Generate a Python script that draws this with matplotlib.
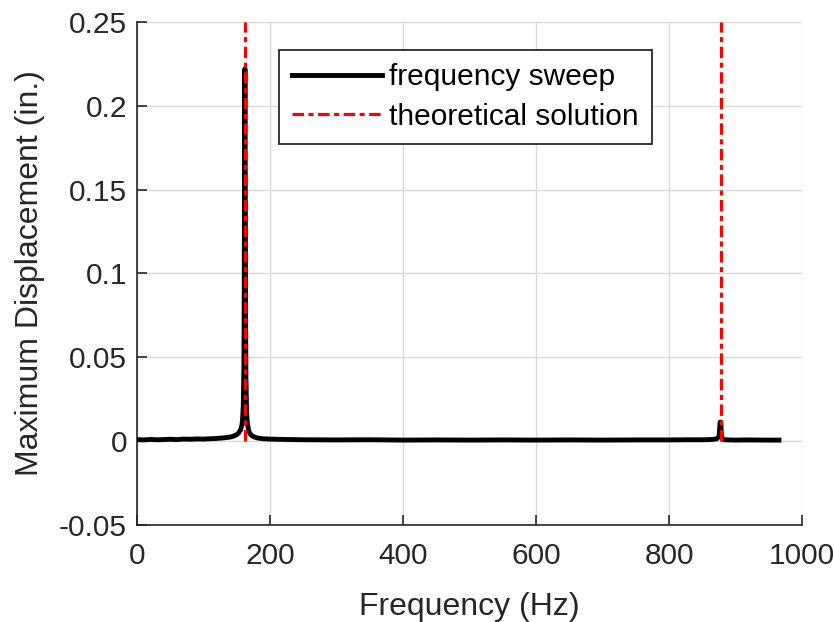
import matplotlib
matplotlib.use("Agg")
import matplotlib.pyplot as plt

plt.rcParams['font.family'] = ['Liberation Sans', 'DejaVu Sans']

# frequency sweep (Hz) and maximum displacement (in.)
freq = [0, 10, 20, 30, 40, 50, 60, 70, 80, 90, 100, 110, 120, 130, 140, 145, 150, 153, 156,
        158, 159, 160, 161, 161.5, 162, 162.5, 163, 163.5, 164, 165, 166, 168, 170, 173, 177,
        182, 190, 200, 220, 250, 300, 350, 400, 450, 500, 550, 600, 650, 700, 750, 800,
        830, 850, 860, 868, 872, 875, 876.5, 877.5, 878.5, 880, 883, 890, 900, 920, 940, 965]
disp = [0.0009, 0.0007, 0.0010, 0.0008, 0.0009, 0.0011, 0.0009, 0.0012, 0.0011, 0.0013,
        0.0012, 0.0014, 0.0016, 0.0019, 0.0024, 0.0029, 0.0038, 0.0048, 0.0068,
        0.0095, 0.013, 0.021, 0.045, 0.090, 0.180, 0.222, 0.160, 0.075, 0.038, 0.018,
        0.011, 0.0065, 0.0045, 0.0032, 0.0024, 0.0018, 0.0014, 0.0012, 0.0010, 0.0008,
        0.0007, 0.0008, 0.0006, 0.0007, 0.0006, 0.0007, 0.0006, 0.0007, 0.0006, 0.0007,
        0.0007, 0.0008, 0.0008, 0.0009, 0.0011, 0.0015, 0.0030, 0.0113, 0.0113, 0.0030,
        0.0012, 0.0008, 0.0007, 0.0006, 0.0007, 0.0006, 0.0006]

# theoretical natural frequencies (Hz)
theory_freq = [162.5, 877.5]
theory_range = [0, 0.25]

xticks = [0, 200, 400, 600, 800, 1000]
yticks = [-0.05, 0, 0.05, 0.1, 0.15, 0.2, 0.25]
yticklabels = ['-0.05', '0', '0.05', '0.1', '0.15', '0.2', '0.25']

fig = plt.figure(figsize=(8.34, 6.22), dpi=100)
ax = fig.add_axes([0.164, 0.156, 0.798, 0.809])

ax.plot(freq, disp, color='black', linewidth=3.5, label='frequency sweep', zorder=3)
for i, f in enumerate(theory_freq):
    ax.plot([f, f], theory_range, color='red', linewidth=2.3,
            linestyle=(0, (3.6, 1.4, 1.6, 1.4)),
            label='theoretical solution' if i == 0 else None, zorder=4)

ax.set_xlim(0, 1000)
ax.set_ylim(-0.05, 0.25)
ax.set_xticks(xticks)
ax.set_yticks(yticks)
ax.set_yticklabels(yticklabels)
ax.grid(True, color='#d9d9d9', linewidth=1.0)
ax.set_axisbelow(True)
for s in ['top', 'right']:
    ax.spines[s].set_visible(False)
for s in ['left', 'bottom']:
    ax.spines[s].set_color('#262626')
    ax.spines[s].set_linewidth(1.2)
ax.tick_params(direction='in', length=7, width=1.2, color='#262626', labelsize=21.5,
               labelcolor='#262626')
ax.tick_params(axis='x', pad=12)
ax.tick_params(axis='y', pad=7)
ax.set_xlabel('Frequency (Hz)', fontsize=23, color='#262626', labelpad=16)
ax.set_ylabel('Maximum Displacement (in.)', fontsize=23, color='#262626', labelpad=10)

leg = ax.legend(loc='upper left', bbox_to_anchor=(0.2135, 0.944), fontsize=21.5,
                frameon=True, fancybox=False, edgecolor='#262626', framealpha=1,
                handlelength=3.0, handletextpad=0.25, borderpad=0.45, labelspacing=0.38,
                borderaxespad=0)
leg.get_frame().set_linewidth(1.3)

fig.savefig('out.png', dpi=100)
